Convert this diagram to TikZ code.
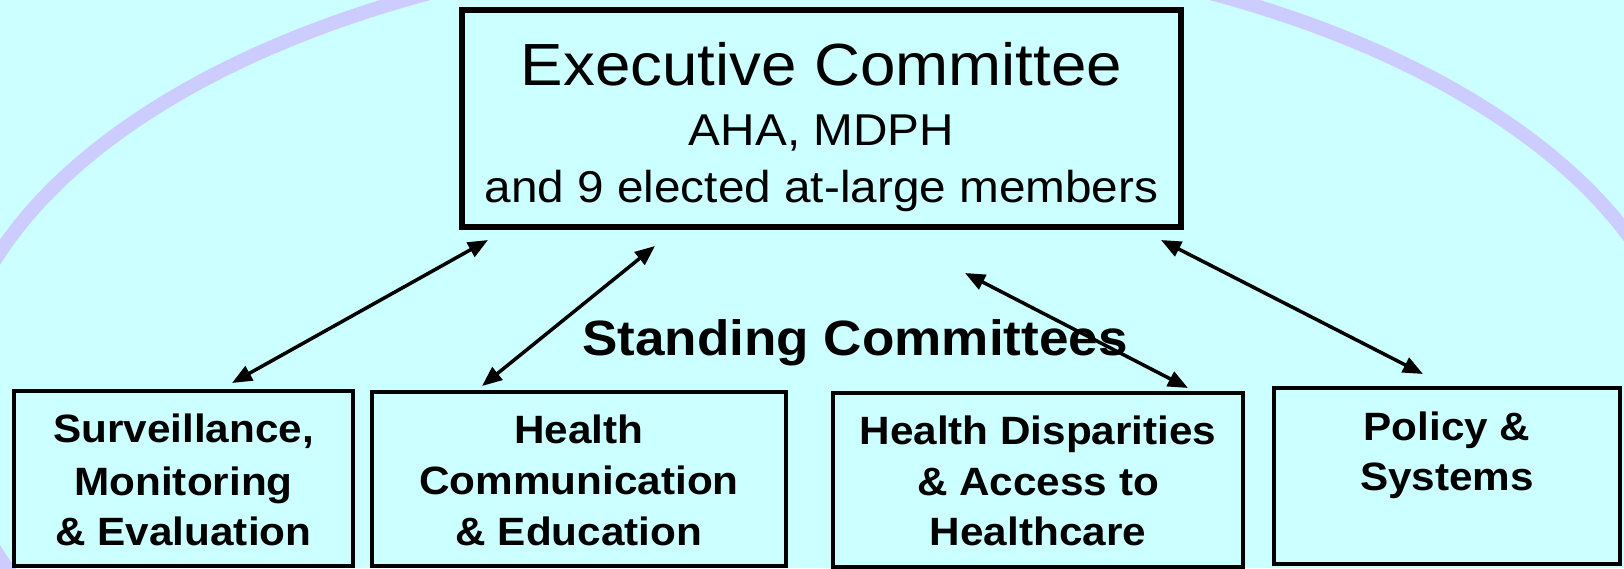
\documentclass[tikz,border=0pt]{standalone}
\usepackage{fontspec}
\setmainfont{Liberation Sans}[FakeStretch=1.07]
\usetikzlibrary{arrows.meta,calc}

\definecolor{bgcyan}{HTML}{CCFFFF}
\definecolor{lavender}{HTML}{CCCCFF}

\tikzset{
  execbox/.style={draw=black, line width=5.5pt, fill=bgcyan, rectangle,
    inner sep=0pt, outer sep=0pt},
  commbox/.style={draw=black, line width=3.5pt, fill=bgcyan, rectangle,
    inner sep=0pt, outer sep=0pt},
  titletext/.style={anchor=base, inner sep=0pt, font=\fontsize{59.5}{70}\selectfont},
  subtext/.style={anchor=base, inner sep=0pt, font=\fontsize{44.6}{54}\selectfont},
  commtext/.style={anchor=base, inner sep=0pt, font=\bfseries\fontsize{39.5}{51}\selectfont},
  headtext/.style={anchor=base, inner sep=0pt, font=\bfseries\fontsize{49.6}{60}\selectfont},
  link/.style={line width=3.5pt, {Triangle[length=20pt,width=16pt]}-{Triangle[length=20pt,width=16pt]}}
}

\begin{document}
\begin{tikzpicture}[x=1pt,y=-1pt]
  % page and background
  \fill[bgcyan] (0,0) rectangle (1624,568);
  \useasboundingbox (0,0) rectangle (1624,568);
  \clip (0,0) rectangle (1624,568);

  % large lavender oval behind the chart
  \draw[lavender, line width=14pt] (820,405) ellipse [x radius=869, y radius=461];

  % executive committee
  \node[execbox, minimum width=719pt, minimum height=217pt] (ex) at (821.5,118.5) {};
  \node[titletext] (exT) at (821.5,85) {Executive Committee};
  \node[subtext] (exA) at (821.5,145) {AHA, MDPH};
  \node[subtext] (exB) at (821.5,202) {and 9 elected at-large members};

  % standing committees heading
  \node[headtext] (head) at (855,355) {Standing Committees};

  % standing committee boxes
  \node[commbox, minimum width=339pt, minimum height=175pt] (b1) at (183.5,478.5) {};
  \node[commbox, minimum width=414pt, minimum height=174pt] (b2) at (579,479) {};
  \node[commbox, minimum width=410pt, minimum height=174pt] (b3) at (1038,480) {};
  \node[commbox, minimum width=346pt, minimum height=176pt] (b4) at (1447,476) {};

  \node[commtext] (b1a) at (183.5,442) {Surveillance,};
  \node[commtext] (b1b) at (183.5,495) {Monitoring};
  \node[commtext] (b1c) at (183.5,545) {\& Evaluation};

  \node[commtext] (b2a) at (579,443) {Health};
  \node[commtext] (b2b) at (579,494) {Communication};
  \node[commtext] (b2c) at (579,545) {\& Education};

  \node[commtext] (b3a) at (1038,444) {Health Disparities};
  \node[commtext] (b3b) at (1038,495) {\& Access to};
  \node[commtext] (b3c) at (1038,545) {Healthcare};

  \node[commtext] (b4a) at (1447,440) {Policy \&};
  \node[commtext] (b4b) at (1447,490) {Systems};

  % two-way links between the executive committee and each standing committee
  \draw[link] ($(ex.south west)+(26,13)$) -- ($(b1.north)+(48.5,-8)$);
  \draw[link] ($(ex.south west)+(193,19)$) -- ($(b2.north west)+(110,-6)$);
  \draw[link] ($(ex.south west)+(503,46)$) -- ($(b3.north east)+(-55,-5)$);
  \draw[link] ($(ex.south east)+(-20,13)$) -- ($(b4.north west)+(149,-14)$);
\end{tikzpicture}
\end{document}
